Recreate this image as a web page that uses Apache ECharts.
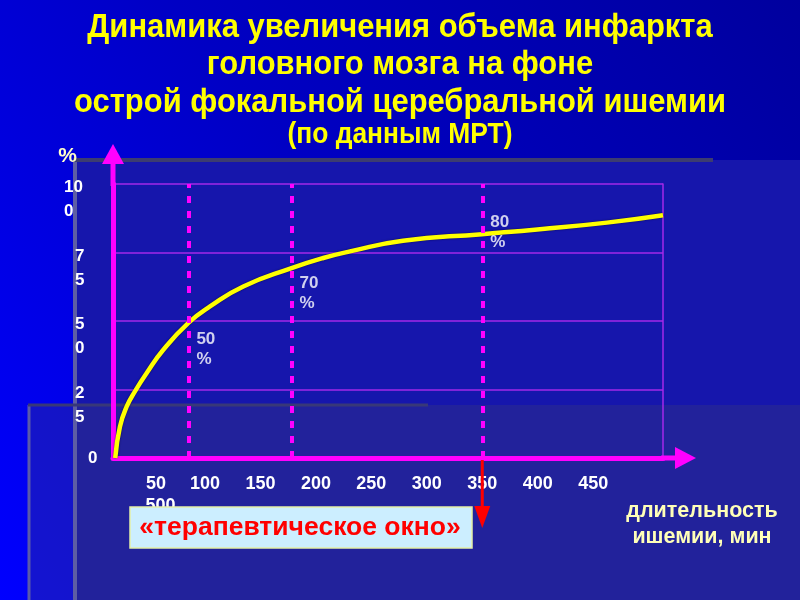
<!DOCTYPE html>
<html><head><meta charset="utf-8">
<script src="https://cdn.jsdelivr.net/npm/echarts@6/dist/echarts.min.js"></script>
<style>html,body{margin:0;padding:0;background:#0000c0}#c{width:800px;height:600px}</style>
</head><body><div id="c"></div>
<script>
// ---- data ----
const titleLines = ['Динамика увеличения объема инфаркта', 'головного мозга на фоне', 'острой фокальной церебральной ишемии'];
const subTitle = '(по данным МРТ)';
const yAxisName = '%';
const xAxisNameLines = ['длительность', 'ишемии, мин'];
const windowLabel = '«терапевтическое окно»';

const minutes    = [19, 23.3, 29.4, 36.8, 47.4, 62.4, 85, 104.5, 134.5, 178, 206.6, 230.7, 278.5, 349.7, 402, 462.4, 513];
const infarctPct = [0, 11.5, 18.8, 24.3, 31, 39.5, 49.3, 55.3, 62.6, 69.3, 73, 75.4, 79.3, 81.7, 83.5, 85.9, 88.6];

const markMinutes = [85, 178, 350];
const markPct     = [50, 70, 80];

const xTickValues = [50, 100, 150, 200, 250, 300, 350, 400, 450];
const xTickLabels = ['50', '100', '150', '200', '250', '300', '350', '400', '450'];
const xOverflowLabel = '500';
const yTickValues = [0, 25, 50, 75, 100];
const yTickLabels = ['0', '2\n5', '5\n0', '7\n5', '10\n0'];

const xMin = 17, xMax = 513, yMin = 0, yMax = 100, yStep = 25;

// ---- styles ----
const FONT = '"Liberation Sans", Arial, sans-serif';
const MAGENTA = '#FF00FF';
const GRIDC = '#A428E8';
const labelOffsets = [[0, 28], [0, 27], [0, -6]];
const titleY = [28, 65, 103];
const subTitleY = 135;

const chart = echarts.init(document.getElementById('c'), null, {renderer: 'canvas'});

const yRichBase = {fontSize: 17, fontWeight: 'bold', color: '#ffffff', lineHeight: 24, fontFamily: FONT};

const option = {
  animation: false,
  backgroundColor: {
    type: 'linear', x: 0, y: 1, x2: 1, y2: 0,
    colorStops: [{offset: 0, color: '#0000FF'}, {offset: 0.5, color: '#0000C4'}, {offset: 1, color: '#00009E'}]
  },
  grid: {left: 113, right: 137, top: 184, bottom: 142, containLabel: false},
  xAxis: {
    type: 'value', min: xMin, max: xMax,
    axisLine: {show: true, onZero: false, lineStyle: {color: MAGENTA, width: 5}},
    axisTick: {show: false},
    splitLine: {show: false},
    axisLabel: {
      customValues: xTickValues,
      margin: 15,
      color: '#ffffff', fontFamily: FONT, fontWeight: 'bold', fontSize: 18, lineHeight: 22,
      formatter: function (v) {
        const i = xTickValues.indexOf(v);
        if (i < 0) return '';
        if (i === 0) return '{a|' + xTickLabels[0] + '}\n{b|' + xOverflowLabel + '}';
        return xTickLabels[i];
      },
      rich: {
        a: {color: '#ffffff', fontFamily: FONT, fontWeight: 'bold', fontSize: 18, lineHeight: 22, padding: [0, 0, 0, 13]},
        b: {color: '#ffffff', fontFamily: FONT, fontWeight: 'bold', fontSize: 18, lineHeight: 22, padding: [0, 0, 0, 22]}
      }
    }
  },
  yAxis: [{
    type: 'value', min: yMin, max: yMax, interval: yStep,
    name: yAxisName, nameLocation: 'end', nameGap: 17, nameMoveOverlap: false,
    nameTextStyle: {color: '#FFFFC8', fontFamily: FONT, fontWeight: 'bold', fontSize: 21, align: 'right', padding: [0, 36, 0, 0]},
    axisLine: {show: true, lineStyle: {color: MAGENTA, width: 5}},
    axisTick: {show: false},
    splitLine: {show: true, showMinLine: false, lineStyle: {color: GRIDC, width: 1.5}},
    axisLabel: {
      align: 'left', margin: 49,
      color: '#ffffff', fontFamily: FONT, fontWeight: 'bold', fontSize: 17,
      formatter: function (v) {
        const i = yTickValues.indexOf(v);
        if (i < 0) return '';
        const s = yTickLabels[i];
        if (s.indexOf('\n') < 0) return '{z|' + s + '}';
        const tok = v === 100 ? 'w' : 'n';
        return '{sp|\u00a0}\n' + s.split('\n').map(p => '{' + tok + '|' + p + '}').join('\n');
      },
      rich: {
        sp: Object.assign({}, yRichBase, {lineHeight: 31}),
        w: Object.assign({}, yRichBase),
        n: Object.assign({}, yRichBase, {padding: [0, 0, 0, 11]}),
        z: Object.assign({}, yRichBase, {padding: [0, 0, 0, 24]})
      }
    }
  }, {
    type: 'value', position: 'right', min: yMin, max: yMax, interval: yStep,
    axisLine: {show: true, lineStyle: {color: GRIDC, width: 1.5}},
    axisTick: {show: false}, axisLabel: {show: false}, splitLine: {show: false}
  }],
  series: [{
    type: 'line',
    data: minutes.map((t, i) => [t, infarctPct[i]]),
    smooth: 0.5,
    symbol: 'none',
    lineStyle: {color: '#FFFF00', width: 4.5, shadowColor: 'rgba(0,0,40,0.7)', shadowBlur: 2},
    z: 3
  }, {
    type: 'scatter',
    data: markMinutes.map((t, i) => ({value: [t, markPct[i]], label: {offset: labelOffsets[i]}})),
    symbolSize: 0,
    z: 4,
    label: {
      show: true, position: 'right', distance: 8,
      formatter: p => p.value[1] + '\n%',
      color: '#ffffff', fontFamily: FONT, fontWeight: 'bold', fontSize: 17, lineHeight: 20
    },
    markLine: {
      silent: true, symbol: 'none', z: 5,
      label: {show: false},
      lineStyle: {color: MAGENTA, width: 4, type: [7, 8]},
      data: markMinutes.map(t => ({xAxis: t}))
    }
  }]
};
chart.setOption(option);

// ---- decorations placed through the grid's own coordinate system ----
const o = chart.convertToPixel({gridIndex: 0}, [xMin, yMin]);
const tp = chart.convertToPixel({gridIndex: 0}, [xMin, yMax]);
const rt = chart.convertToPixel({gridIndex: 0}, [xMax, yMin]);
const redX = chart.convertToPixel({gridIndex: 0}, [markMinutes[2], yMin])[0];

const titleStyle = (txt, size) => ({
  text: txt, fill: '#FFFF00', font: 'bold ' + size + 'px ' + FONT, align: 'center', verticalAlign: 'middle',
  shadowColor: 'rgba(0,0,0,0.85)', shadowOffsetX: 2, shadowOffsetY: 2, shadowBlur: 1
});

const els = [
  // panels
  {type: 'rect', z: -20, shape: {x: 75, y: 160, width: 725, height: 440}, style: {fill: '#1616AC'}},
  {type: 'rect', z: -19, shape: {x: 28, y: 405, width: 772, height: 195}, style: {fill: 'rgba(62,62,120,0.32)'}},
  {type: 'line', z: -18, shape: {x1: 75, y1: 160, x2: 75, y2: 600}, style: {stroke: '#5E5EA4', lineWidth: 4}},
  {type: 'line', z: -18, shape: {x1: 73, y1: 160, x2: 713, y2: 160}, style: {stroke: '#3C3C70', lineWidth: 4}},
  {type: 'line', z: -17, shape: {x1: 29, y1: 405, x2: 29, y2: 600}, style: {stroke: '#5A5AAA', lineWidth: 3}},
  {type: 'line', z: -17, shape: {x1: 28, y1: 405, x2: 428, y2: 405}, style: {stroke: '#383878', lineWidth: 3}},
  // title
  {type: 'text', z: 50, x: 400, y: titleY[0], scaleX: 0.91, style: titleStyle(titleLines[0], 34)},
  {type: 'text', z: 50, x: 400, y: titleY[1], scaleX: 0.91, style: titleStyle(titleLines[1], 34)},
  {type: 'text', z: 50, x: 400, y: titleY[2], scaleX: 0.91, style: titleStyle(titleLines[2], 34)},
  {type: 'text', z: 50, x: 400, y: subTitleY, scaleX: 0.91, style: titleStyle(subTitle, 29)},
  // axis arrows
  {type: 'line', z: 10, shape: {x1: o[0], y1: tp[1] + 2, x2: o[0], y2: tp[1] - 21}, style: {stroke: MAGENTA, lineWidth: 5}},
  {type: 'polygon', z: 10, shape: {points: [[o[0] - 11, tp[1] - 20], [o[0] + 11, tp[1] - 20], [o[0], tp[1] - 40]]}, style: {fill: MAGENTA}},
  {type: 'line', z: 10, shape: {x1: rt[0] - 2, y1: o[1], x2: rt[0] + 13, y2: o[1]}, style: {stroke: MAGENTA, lineWidth: 5}},
  {type: 'polygon', z: 10, shape: {points: [[rt[0] + 12, o[1] - 11], [rt[0] + 12, o[1] + 11], [rt[0] + 33, o[1]]]}, style: {fill: MAGENTA}},
  // red arrow
  {type: 'line', z: 100, shape: {x1: redX, y1: o[1] + 2, x2: redX, y2: 508}, style: {stroke: '#FF0000', lineWidth: 3}},
  {type: 'polygon', z: 100, shape: {points: [[redX - 8, 506], [redX + 8, 506], [redX, 528]]}, style: {fill: '#FF0000'}},
  // therapeutic window box
  {type: 'rect', z: 100, shape: {x: 130, y: 507, width: 342, height: 41}, style: {fill: '#CCEEFF', stroke: '#E4F0A8', lineWidth: 1.5}},
  {type: 'text', z: 101, x: 300, y: 528, style: {text: windowLabel, fill: '#FF0000', font: 'bold 26.5px ' + FONT, align: 'center', verticalAlign: 'middle'}},
  // x axis name
  {type: 'text', z: 100, x: 702, y: 524, style: {text: xAxisNameLines.join('\n'), fill: '#FFFFB8', font: 'bold 21.5px ' + FONT, lineHeight: 26, align: 'center', verticalAlign: 'middle'}}
];
chart.setOption({graphic: {elements: els}});
</script>
</body></html>
